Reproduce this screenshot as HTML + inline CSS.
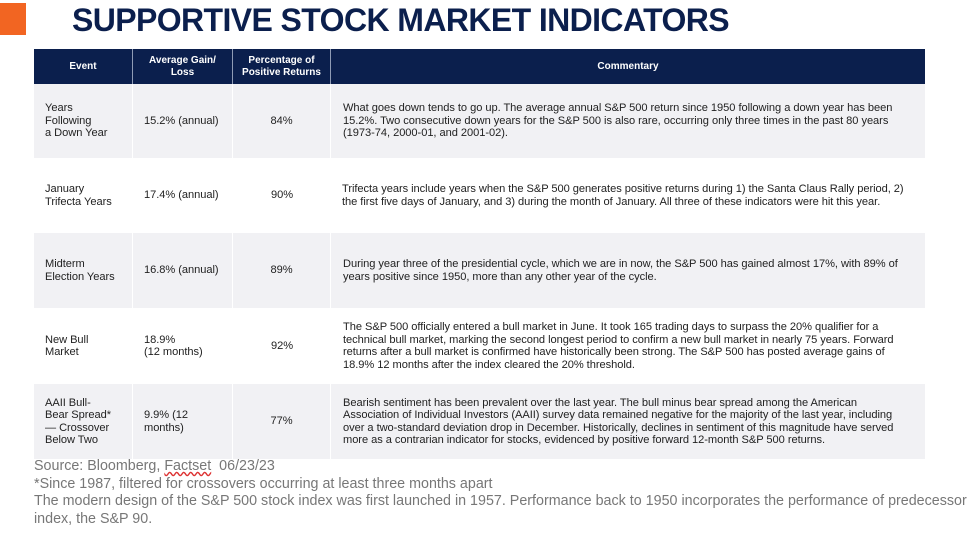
<!DOCTYPE html>
<html><head><meta charset="utf-8"><style>
body{margin:0;width:975px;height:535px;background:#fff;position:relative;overflow:hidden;font-family:"Liberation Sans",sans-serif}
.a{position:absolute}
.t{font-size:11.1px;line-height:12.5px;color:#222;white-space:nowrap;letter-spacing:-0.05px}
.hd{font-size:10px;line-height:12px;color:#fff;font-weight:bold;text-align:center}
.row{position:absolute;left:34px;width:891px}
.cell{position:absolute;top:0;height:100%;display:flex;align-items:center;box-sizing:border-box}
.foot{font-size:14.3px;line-height:17.5px;color:#777;white-space:nowrap}
</style></head><body>
<div class="a" style="left:0;top:3px;width:26px;height:32px;background:#f26522"></div>
<div class="a" style="left:72px;top:1px;font-size:32px;font-weight:bold;color:#0b1f4d;line-height:38px;letter-spacing:-0.6px">SUPPORTIVE STOCK MARKET INDICATORS</div>

<div class="row" style="top:49px;height:35px;background:#0b1f4d">
 <div class="cell hd" style="left:0;width:99px;justify-content:center;border-right:1px solid #8f9bb5">Event</div>
 <div class="cell hd" style="left:99px;width:100px;justify-content:center;border-right:1px solid #8f9bb5">Average Gain/<br>Loss</div>
 <div class="cell hd" style="left:199px;width:98px;justify-content:center;border-right:1px solid #8f9bb5">Percentage of<br>Positive Returns</div>
 <div class="cell hd" style="left:297px;width:594px;justify-content:center">Commentary</div>
</div>

<div class="row" style="top:84px;height:74px;background:#f1f1f4">
 <div class="cell t" style="left:0;width:99px;padding-left:11px;border-right:1px solid #fff">Years<br>Following<br>a Down Year</div>
 <div class="cell t" style="left:99px;width:100px;padding-left:11px;border-right:1px solid #fff">15.2% (annual)</div>
 <div class="cell t" style="left:199px;width:98px;justify-content:center;border-right:1px solid #fff">84%</div>
 <div class="cell t" style="left:297px;width:594px;padding-left:12px">What goes down tends to go up. The average annual S&amp;P 500 return since 1950 following a down year has been<br>15.2%. Two consecutive down years for the S&amp;P 500 is also rare, occurring only three times in the past 80 years<br>(1973-74, 2000-01, and 2001-02).</div>
</div>

<div class="row" style="top:158px;height:75px;background:#fff">
 <div class="cell t" style="left:0;width:99px;padding-left:11px">January<br>Trifecta Years</div>
 <div class="cell t" style="left:99px;width:100px;padding-left:11px">17.4% (annual)</div>
 <div class="cell t" style="left:199px;width:98px;justify-content:center">90%</div>
 <div class="cell t" style="left:297px;width:594px;padding-left:11px">Trifecta years include years when the S&amp;P 500 generates positive returns during 1) the Santa Claus Rally period, 2)<br>the first five days of January, and 3) during the month of January. All three of these indicators were hit this year.</div>
</div>

<div class="row" style="top:233px;height:75px;background:#f1f1f4">
 <div class="cell t" style="left:0;width:99px;padding-left:11px;border-right:1px solid #fff">Midterm<br>Election Years</div>
 <div class="cell t" style="left:99px;width:100px;padding-left:11px;border-right:1px solid #fff">16.8% (annual)</div>
 <div class="cell t" style="left:199px;width:98px;justify-content:center;border-right:1px solid #fff">89%</div>
 <div class="cell t" style="left:297px;width:594px;padding-left:12px">During year three of the presidential cycle, which we are in now, the S&amp;P 500 has gained almost 17%, with 89% of<br>years positive since 1950, more than any other year of the cycle.</div>
</div>

<div class="row" style="top:308px;height:76px;background:#fff">
 <div class="cell t" style="left:0;width:99px;padding-left:11px">New Bull<br>Market</div>
 <div class="cell t" style="left:99px;width:100px;padding-left:11px">18.9%<br>(12 months)</div>
 <div class="cell t" style="left:199px;width:98px;justify-content:center">92%</div>
 <div class="cell t" style="left:297px;width:594px;padding-left:12px">The S&amp;P 500 officially entered a bull market in June. It took 165 trading days to surpass the 20% qualifier for a<br>technical bull market, marking the second longest period to confirm a new bull market in nearly 75 years. Forward<br>returns after a bull market is confirmed have historically been strong. The S&amp;P 500 has posted average gains of<br>18.9% 12 months after the index cleared the 20% threshold.</div>
</div>

<div class="row" style="top:384px;height:75px;background:#f1f1f4">
 <div class="cell t" style="left:0;width:99px;padding-left:11px;border-right:1px solid #fff">AAII Bull-<br>Bear Spread*<br>— Crossover<br>Below Two</div>
 <div class="cell t" style="left:99px;width:100px;padding-left:11px;border-right:1px solid #fff">9.9% (12<br>months)</div>
 <div class="cell t" style="left:199px;width:98px;justify-content:center;border-right:1px solid #fff">77%</div>
 <div class="cell t" style="left:297px;width:594px;padding-left:12px">Bearish sentiment has been prevalent over the last year. The bull minus bear spread among the American<br>Association of Individual Investors (AAII) survey data remained negative for the majority of the last year, including<br>over a two-standard deviation drop in December. Historically, declines in sentiment of this magnitude have served<br>more as a contrarian indicator for stocks, evidenced by positive forward 12-month S&amp;P 500 returns.</div>
</div>

<div class="a foot" style="left:34px;top:458px;width:940px">
Source: Bloomberg, <span style="text-decoration:underline wavy #d33">Factset</span>&nbsp; 06/23/23<br>
*Since 1987, filtered for crossovers occurring at least three months apart<br>
The modern design of the S&amp;P 500 stock index was first launched in 1957. Performance back to 1950 incorporates the performance of predecessor<br>index, the S&amp;P 90.
</div>
</body></html>
